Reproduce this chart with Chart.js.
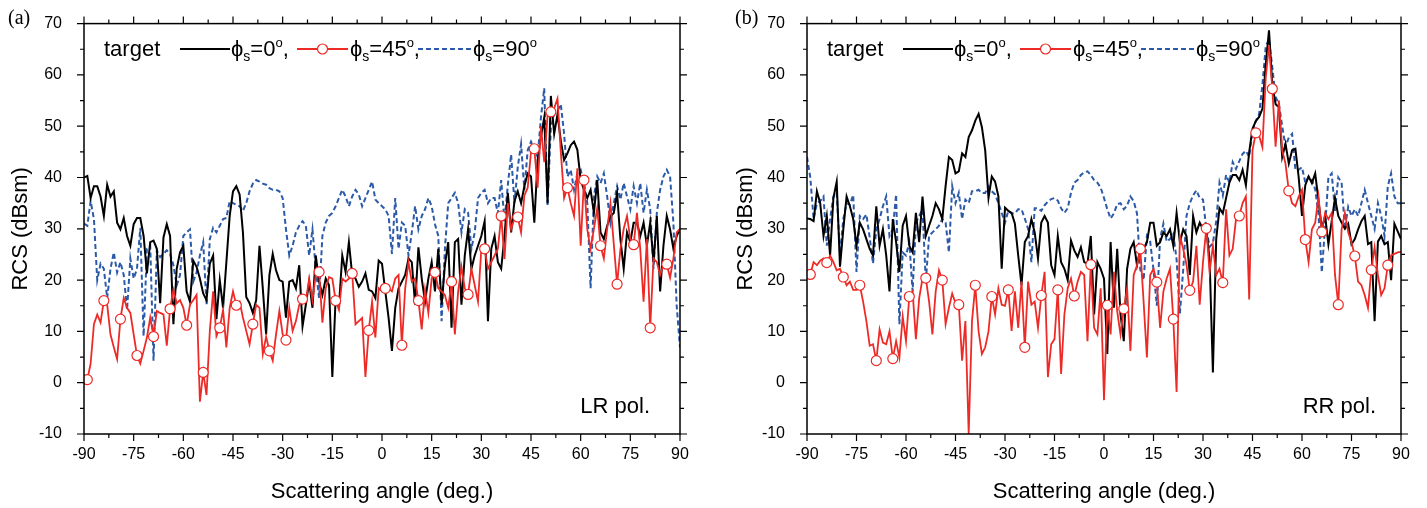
<!DOCTYPE html>
<html>
<head>
<meta charset="utf-8">
<script src="https://cdn.jsdelivr.net/npm/chart.js@4.4.1/dist/chart.umd.min.js"></script>
<style>
  html, body { margin: 0; padding: 0; background: #fff; }
  body { width: 1427px; height: 508px; position: relative; overflow: hidden; }
  .panel { position: absolute; top: 0; height: 508px; }
  #panelA { left: 0; width: 725px; }
  #panelB { left: 725px; width: 702px; }
</style>
</head>
<body>
<div class="panel" id="panelA"><canvas id="chartLR"></canvas></div>
<div class="panel" id="panelB"><canvas id="chartRR"></canvas></div>
<script>
// scattering angle grid, 1 degree steps
const angles = [];
for (let a = -90; a <= 90; a++) angles.push(a);

const xTickValues = [-90, -75, -60, -45, -30, -15, 0, 15, 30, 45, 60, 75, 90];
const yTickValues = [-10, 0, 10, 20, 30, 40, 50, 60, 70];

// (a) LR polarisation
const lrPhi0 = [40,
  40.3, 36, 38.3, 38.3, 36.3, 32.5, 38.6, 36.3, 37.3, 31.2,
  29.9, 32.1, 28.6, 26.7, 30.9, 32.1, 32.1, 28.6, 21.3, 27.4,
  27.7, 26.1, 15.5, 28.3, 30.9, 28.6, 11.4, 22.2, 25.4, 26.7,
  17.8, 15.8, 23.8, 22.6, 20.3, 17.4, 16.1, 23.2, 24.8, 12.4,
  20, 14.6, 23.5, 32.5, 37.3, 38.3, 36.7, 29.3, 16.7, 15.5,
  13.6, 16.1, 26.7, 18.4, 9.4, 21, 25.1, 21.9, 20, 19.7,
  12.7, 19.7,
  20, 18.4, 22.9, 11, 15.2, 19.7, 14.6, 24.8, 19.7, 17.1,
  20.3, 19, 1.1, 16.5, 14.9, 24.8, 21.6, 27.4, 21, 20.3,
  18.7, 19.7, 21.3, 18.1, 17.8, 16.5, 23.8, 23.2, 17.8, 12.6,
  6.2, 14.6, 18.4, 19.7, 21, 24.2, 23.5, 15.2, 26.4, 20.3,
  15.8, 20.3, 23.5, 17.8, 26.1, 15.2, 22.9, 27.4, 10.7, 27.4,
  28, 15.2, 24.8, 29.9, 22.2, 24.8, 26.7, 28.6, 31.5, 12,
  26.1, 28.6, 23.5, 22.2, 28.6, 37, 29.3, 35.4, 37.3, 35,
  38.3, 40.8, 40.2, 31.2, 43.4, 47.9, 51.7, 35, 55.9, 48.5,
  52.3, 47.2, 43.4, 44.7, 46.3, 47, 45.4, 39.5, 37.6, 36,
  37.6, 33.1, 39.5, 29.3, 28, 30.6, 32.5, 33.1, 37, 28,
  22.2, 29.3, 27.4, 31.2, 31.2, 28.6, 31.2, 26.7, 31.2, 23.5,
  32.5, 17.8, 26.7, 32.5, 29.9, 26.1, 28.6, 30];

const lrPhi45 = [0.3,
  0.6, 3.7, 11.4, 13.3, 11.7, 16, 15.2, 9.4, 6.9, 4.6,
  12.4, 16.5, 14.6, 13.6, 9.4, 5.3, 3.7, 6.2, 8.8, 12.7,
  9, 14, 13.6, 13.3, 7.2, 14.4, 18.1, 15.5, 16.1, 14.6,
  11.2, 15.2, 16.1, 17.1, -3.7, 2, -2.4, 10.1, 17.8, 9.1,
  10.7, 14.2, 6.9, 14.6, 17.8, 15.1, 15.8, 12.7, 10.1, 7.5,
  11.4, 15.2, 14.6, 5.6, 9, 6.2, 4.3, 9.4, 14, 9.4,
  8.3, 14.6,
  10.1, 12, 15.2, 16.3, 15.8, 20.3, 16.1, 21, 21.6, 11.7,
  18.4, 20.6, 20.3, 16, 14.2, 20.3, 19.7, 20.3, 21.3, 11.4,
  12, 12.6, 1.1, 10.2, 15.8, 8.8, 18.4, 17.8, 18.4, 18.4,
  17.8, 20.3, 21, 7.3, 18.4, 23.5, 19.7, 20.3, 16, 10.4,
  18.1, 13.6, 20.3, 21.5, 18.4, 17.8, 17.1, 14.6, 19.7, 9.4,
  17.8, 22.6, 18.4, 17.2, 22.2, 19, 15.8, 26.1, 26.1, 22.2,
  23.5, 24.8, 26.1, 32.5, 24.1, 35, 29.9, 32, 32.3, 29.3,
  36.5, 38, 45, 45.6, 38, 50, 43, 52, 52.8, 53.5,
  55.4, 45, 36, 38, 35, 32.5, 41.8, 26.7, 39.5, 29.9,
  26.1, 30, 34, 26.7, 24.2, 30, 35, 27, 19.2, 26,
  30, 32.5, 28, 26.9, 33.1, 26, 15.8, 28, 10.7, 24.2,
  23.5, 21, 23, 23.1, 20.5, 24.2, 29.3, 30];

const lrPhi90 = [31,
  30.6, 35.4, 31.9, 20, 23.2, 22.2, 16.5, 22.2, 25.4, 21.5,
  23.5, 21, 14.2, 24.2, 20.3, 22.2, 30.2, 9.1, 26.1, 26.7,
  4.3, 25.8, 24.5, 25.1, 25.8, 25.1, 22.9, 19, 21, 28.6,
  29.3, 29.9, 19.7, 21.5, 24.8, 27.4, 15.2, 28, 30.2, 29.3,
  30.6, 31.9, 32.1, 35.4, 35, 34.7, 34.4, 33.5, 35, 37.3,
  38.8, 39.5, 39.2, 38.8, 38.6, 37.9, 37.6, 37.6, 37.3, 36,
  29.9, 24.8,
  26.7, 29.3, 30.6, 31.5, 30.6, 24.8, 29.9, 22.2, 16.5, 28.6,
  31.2, 32.5, 33.1, 34.4, 36, 37.6, 36.3, 34.4, 36.3, 37.6,
  36.7, 34.4, 36, 37.6, 39.2, 35.7, 35, 34.4, 33.8, 32.5,
  25.1, 36, 26.1, 31.2, 30.6, 24.8, 29.3, 34.4, 29.9, 32.5,
  33.8, 36, 34.4, 30.9, 28.6, 12, 26.1, 35, 36, 37,
  35, 29.3, 33.8, 33.1, 26.1, 29.3, 36, 37, 37.6, 35,
  36, 36, 33, 39.5, 31.5, 38.5, 44.5, 35, 42, 46.5,
  37.6, 45.3, 47, 45.5, 44, 51.7, 57.4, 34.4, 49.8, 52.4,
  53, 54.3, 48.5, 40.2, 41.5, 37.6, 40.8, 41.5, 38.9, 35,
  18.4, 36.3, 40.2, 38.9, 40.8, 36.3, 31.2, 35, 38.3, 35.7,
  38.9, 36.3, 33.8, 38.3, 35, 38.9, 33.1, 37.6, 33.8, 22.2,
  33.1, 37.6, 40.2, 41.5, 40.2, 31.2, 15, 6.9];

// (b) RR polarisation
const rrPhi0 = [32,
  31.9, 31.5, 37.3, 35, 28.6, 32.5, 24.8, 36, 39.2, 22.6,
  29.9, 36.3, 34.4, 31.9, 26.7, 31.2, 29.9, 28, 26.1, 24.8,
  34.4, 26.7, 29.9, 24.8, 17.8, 31.9, 27.4, 21.6, 30.6, 32.5,
  26.7, 25.4, 33.1, 27.4, 36.3, 28.6, 30.6, 32.5, 35, 33.8,
  31.9, 38.3, 44, 43.4, 40.8, 41.2, 44.7, 44, 47.9, 49.2,
  51.1, 52.4, 49.8, 45.3, 36, 40.2, 39.2, 36.3, 22.2, 34.1,
  33.5, 33.1, 31, 24.8, 19, 27.4, 28.6, 31.9, 29.3, 24.2,
  31.2, 32.5, 31.2, 22.9, 21, 28.6, 23.5, 22.2, 20, 27.7,
  25.8, 24.5, 26.4, 23.5, 23.2, 28.6, 13.3, 23.5, 22.2, 20.3,
  5.6, 27.4, 14.6, 26.1, 13.3, 8.1, 22.2, 26.1, 27.4, 22.9,
  26.1, 26.1, 27.4, 31.2, 31.2, 26.7, 27.4, 29.3, 28.6, 29.9,
  26.7, 33.1, 27.4, 29.9, 28.6, 21, 32.5, 29.3, 31.2, 29.9,
  30, 24, 2, 28, 34, 33, 36, 39, 40.5, 40.5,
  39.5, 41.5, 38.5, 45, 49.5, 51, 51.8, 53.4, 62, 68.7,
  58.1, 54.3, 53.7, 44, 46.6, 42.7, 45.3, 45.6, 40, 32.5,
  38.5, 40.2, 38.9, 40.8, 35.5, 30, 32.5, 27, 31.5, 36,
  32.5, 31.2, 30, 31, 27, 28, 29.9, 31.5, 32.5, 27,
  27.4, 12, 27.5, 28.6, 27, 27.4, 20, 31, 29.5, 28];

const rrPhi45 = [21,
  21.1, 23.5, 22.9, 23.8, 24.2, 23.4, 24.8, 23.5, 21.9, 22.2,
  20.6, 19, 19.7, 18.1, 18.1, 19, 15.8, 12, 7.2, 7.5,
  4.3, 10.4, 7.8, 7.5, 10, 4.7, 8.1, 4.9, 12.9, 8.1,
  16.8, 17.8, 8.5, 16.5, 20.3, 20.4, 15.8, 9.4, 17.8, 21.9,
  20, 11.4, 14.6, 17.4, 15.5, 15.2, 4.3, 12, -10, 12,
  19, 10, 5.6, 6.9, 10, 16.8, 13.3, 18.4, 15.2, 15,
  18.1, 10.1, 17.8, 10.7, 19.7, 6.9, 19.7, 15.2, 15.8, 10.7,
  17, 21.6, 1.1, 7.5, 8.5, 18.1, 1.7, 13.3, 18.4, 20.3,
  16.9, 19.7, 21.6, 21, 8.1, 23, 10.7, 9.4, 18.4, -3.4,
  15.1, 9.4, 21.6, 13.9, 9.4, 14.4, 18.4, 6.2, 21, 22.9,
  26.1, 15.8, 4.9, 21, 22.2, 19.6, 10.7, 17.8, 20.3, 22.2,
  12.4, -1.8, 28.6, 26.1, 23, 18, 19.7, 26.7, 15.2, 23.5,
  30.1, 21.6, 26.7, 21, 22.2, 19.5, 33.8, 24.8, 26.1, 31.9,
  32.5, 35, 36.3, 16.2, 45.3, 48.7, 48.2, 45.9, 59.4, 65.8,
  57.3, 46, 55, 45.3, 42.7, 37.4, 35, 34.4, 36.3, 37.6,
  27.9, 23.5, 29.9, 31.2, 36.3, 29.4, 33.1, 31.9, 33.1, 21,
  15.2, 29.9, 33.1, 29.3, 27.4, 24.7, 19.7, 19, 17.1, 14.6,
  22, 26.4, 21, 17.1, 18.4, 22.9, 24.8, 25.1, 25.4, 25.5];

const rrPhi90 = [44,
  40, 31.9, 35, 35.4, 36.3, 26.7, 31.9, 36.3, 37, 25.1,
  31.9, 35, 34.7, 36.6, 21.6, 32.5, 31.9, 32.8, 28.3, 23.2,
  29.9, 31.9, 34.4, 36.3, 28.6, 29.9, 36.7, 11.4, 25.4, 24.8,
  27.4, 17.8, 31.2, 32.5, 33.8, 19.7, 28.6, 29.3, 29.9, 30.6,
  31.9, 31.2, 25.4, 38.3, 35, 37, 31.9, 35.7, 35, 37.3,
  37.3, 37.6, 37, 37, 38.3, 37.3, 36.7, 35, 33.1, 31.2,
  33.5, 33, 33, 33.8, 33.8, 32, 30, 23.5, 34, 34,
  33.5, 34.6, 35.3, 35.8, 36, 35.5, 34, 33.1, 34, 37,
  39, 39.5, 40.5, 41, 41.2, 40.5, 39.5, 39, 38, 36,
  33.8, 32, 33, 34.8, 35, 33.8, 34.5, 36.3, 35.4, 33,
  22, 20, 28.6, 27.5, 22, 15, 28, 31, 27.5, 28,
  29, 24, 13.5, 22, 32.5, 35, 36.5, 37.5, 36, 35.7,
  30, 26.5, 27.2, 31.5, 39, 36.5, 40.5, 39, 43, 41.7,
  43.2, 44.6, 45.2, 44, 49, 51, 52.3, 58, 65.5, 67,
  61.5, 55.7, 54.3, 50, 46, 47.8, 48.5, 41.5, 41.5, 42,
  39, 40.2, 39.5, 37.7, 32.8, 21.5, 30.5, 40, 40.8, 33.5,
  40, 39, 30, 34.3, 32.5, 33.8, 32.5, 35, 37.6, 35,
  32.5, 30, 35, 32.5, 28.6, 38.3, 40.8, 36.3, 35, 35];

[lrPhi0, lrPhi45, lrPhi90, rrPhi0, rrPhi45, rrPhi90].forEach((s, k) => {
  if (s.length !== angles.length) throw new Error('series ' + k + ' has ' + s.length + ' values');
});

const FONT = '"Liberation Sans", Arial, Helvetica, sans-serif';
const RED = '#ee2a26';
const BLUE = '#2b5aa9';

function toPoints(vals) {
  return angles.map((a, i) => ({ x: a, y: vals[i] }));
}

// writes ϕs=NNo with sub/superscript pieces, returns end x
function drawPhi(ctx, x, base, deg, comma) {
  const parts = [['\u03d5', 22, 0], ['s', 14, 5], ['=' + deg, 22, 0], ['o', 13, -9]];
  if (comma) parts.push([',', 22, 0]);
  for (const [t, size, dy] of parts) {
    ctx.font = size + 'px ' + FONT;
    ctx.fillText(t, x, base + dy);
    x += ctx.measureText(t).width;
  }
  return x;
}

function sampleLine(ctx, x0, x1, yy, color, dash) {
  ctx.beginPath();
  ctx.setLineDash(dash || []);
  ctx.strokeStyle = color;
  ctx.lineWidth = 2;
  ctx.moveTo(x0, yy);
  ctx.lineTo(x1, yy);
  ctx.stroke();
  ctx.setLineDash([]);
}

// frame with outward ticks, legend row, polarisation note and panel tag
const panelDecor = {
  id: 'panelDecor',
  afterDraw(chart, args, o) {
    const { ctx, chartArea: a } = chart;
    const xs = chart.scales.x, ys = chart.scales.y;
    ctx.save();
    ctx.strokeStyle = '#000';
    ctx.lineWidth = 1.5;
    ctx.strokeRect(a.left, a.top, a.right - a.left, a.bottom - a.top);

    ctx.lineWidth = 1.2;
    ctx.beginPath();
    for (let v = -90; v <= 90; v += 7.5) {
      const px = xs.getPixelForValue(v);
      const len = v % 15 === 0 ? 7 : 4;
      ctx.moveTo(px, a.bottom); ctx.lineTo(px, a.bottom + len);
      ctx.moveTo(px, a.top); ctx.lineTo(px, a.top - len);
    }
    for (let v = -10; v <= 70; v += 5) {
      const py = ys.getPixelForValue(v);
      const len = v % 10 === 0 ? 7 : 4;
      ctx.moveTo(a.left - len, py); ctx.lineTo(a.left, py);
      ctx.moveTo(a.right, py); ctx.lineTo(a.right + len, py);
    }
    ctx.stroke();

    // legend
    const L = a.left;
    const base = 56, ly = 49;
    ctx.fillStyle = '#000';
    ctx.textAlign = 'left';
    ctx.textBaseline = 'alphabetic';
    ctx.font = '22px ' + FONT;
    ctx.fillText('target', L + 20, base);

    sampleLine(ctx, L + 96, L + 146, ly, '#000');
    drawPhi(ctx, L + 147, base, '0', true);

    sampleLine(ctx, L + 213, L + 264, ly, RED);
    ctx.beginPath();
    ctx.arc(L + 238.5, ly, 5, 0, Math.PI * 2);
    ctx.fillStyle = '#fff';
    ctx.fill();
    ctx.lineWidth = 1.2;
    ctx.strokeStyle = RED;
    ctx.stroke();
    ctx.fillStyle = '#000';
    drawPhi(ctx, L + 266, base, '45', true);

    sampleLine(ctx, L + 334, L + 388, ly, BLUE, [5, 3]);
    drawPhi(ctx, L + 389, base, '90', false);

    ctx.font = '22px ' + FONT;
    ctx.textAlign = 'right';
    ctx.fillText(o.pol, a.right - o.polInset, 413);

    ctx.textAlign = 'left';
    ctx.font = '20px "Liberation Serif", "DejaVu Serif", serif';
    ctx.fillText(o.tag, o.tagX, 24);
    ctx.restore();
  }
};

function buildPanel(canvasId, s0, s45, s90, cfg) {
  return new Chart(document.getElementById(canvasId), {
    type: 'line',
    data: {
      datasets: [
        {
          label: 'phi_s=45',
          data: toPoints(s45),
          borderColor: RED,
          borderWidth: 1.8,
          pointRadius: c => (c.dataIndex % 5 === 1 ? 5 : 0),
          pointBackgroundColor: '#fff',
          pointBorderColor: RED,
          pointBorderWidth: 1.2,
          order: 0
        },
        {
          label: 'phi_s=0',
          data: toPoints(s0),
          borderColor: '#000',
          borderWidth: 2,
          pointRadius: 0,
          order: 1
        },
        {
          label: 'phi_s=90',
          data: toPoints(s90),
          borderColor: BLUE,
          borderWidth: 2,
          borderDash: [5, 3],
          pointRadius: 0,
          order: 2
        }
      ]
    },
    options: {
      responsive: true,
      maintainAspectRatio: false,
      animation: false,
      events: [],
      elements: { line: { tension: 0 } },
      layout: { padding: { top: 20, right: cfg.padRight, left: 0, bottom: 0 } },
      plugins: {
        legend: { display: false },
        tooltip: { enabled: false },
        panelDecor: { pol: cfg.pol, polInset: cfg.polInset, tag: cfg.tag, tagX: cfg.tagX }
      },
      scales: {
        x: {
          type: 'linear',
          min: -90,
          max: 90,
          afterBuildTicks: s => { s.ticks = xTickValues.map(v => ({ value: v })); },
          ticks: { color: '#000', font: { family: FONT, size: 16 }, padding: 3, maxRotation: 0, autoSkip: false },
          grid: { display: false },
          border: { display: false },
          title: {
            display: true,
            text: 'Scattering angle (deg.)',
            color: '#000',
            font: { family: FONT, size: 22 },
            padding: { top: 0, bottom: 3 }
          },
          afterFit: s => { s.height = 74; }
        },
        y: {
          type: 'linear',
          min: -10,
          max: 70,
          afterBuildTicks: s => { s.ticks = yTickValues.map(v => ({ value: v })); },
          ticks: { color: '#000', font: { family: FONT, size: 16 }, padding: 14 },
          grid: { display: false },
          border: { display: false },
          title: {
            display: true,
            text: 'RCS (dBsm)',
            color: '#000',
            font: { family: FONT, size: 22 },
            padding: { top: 8, bottom: 0 }
          },
          afterFit: s => { s.width = cfg.yWidth; }
        }
      }
    },
    plugins: [panelDecor]
  });
}

buildPanel('chartLR', lrPhi0, lrPhi45, lrPhi90,
  { yWidth: 84, padRight: 45, pol: 'LR pol.', polInset: 30, tag: '(a)', tagX: 8 });
buildPanel('chartRR', rrPhi0, rrPhi45, rrPhi90,
  { yWidth: 82, padRight: 26, pol: 'RR pol.', polInset: 25, tag: '(b)', tagX: 10 });
</script>
</body>
</html>
